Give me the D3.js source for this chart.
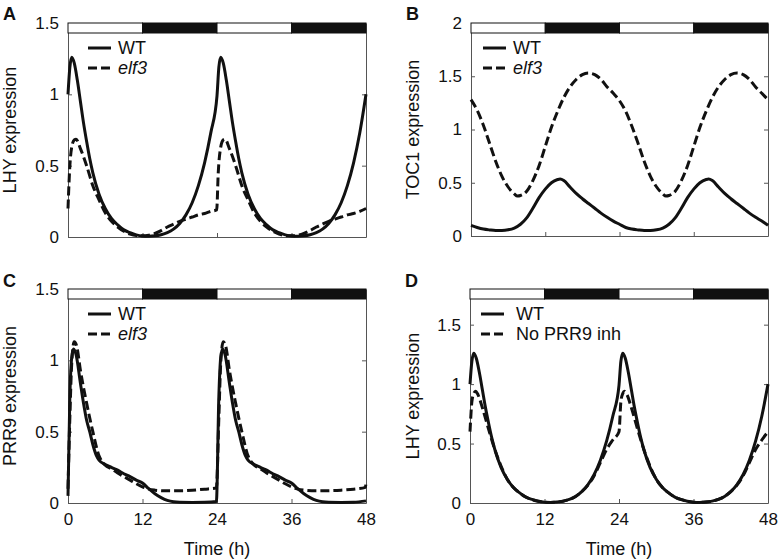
<!DOCTYPE html>
<html>
<head>
<meta charset="utf-8">
<script src="https://cdn.jsdelivr.net/npm/d3@7"></script>
<style>
  body { margin: 0; background: #fff; }
  text { font-family: "Liberation Sans", Arial, Helvetica, sans-serif; fill: #111; }
</style>
</head>
<body>
<div id="chart"></div>
<script>
// time ticks and light/dark schedule
var timeTicks = [0, 12, 24, 36, 48];
var lightDark = [[0, 12, "light"], [12, 24, "dark"], [24, 36, "light"], [36, 48, "dark"]];

// [hour, value] pairs
var lhyWT = [[0,1.0],[0.3,1.19],[0.6,1.26],[1,1.22],[1.5,1.1],[2,0.95],[2.5,0.8],[3,0.67],[3.5,0.55],[4,0.45],[5,0.3],[6,0.2],[7,0.13],[8,0.085],[9,0.05],[10,0.03],[11,0.015],[12,0.007],[13,0.005],[14,0.008],[15,0.016],[16,0.03],[17,0.055],[18,0.095],[19,0.155],[20,0.24],[21,0.36],[22,0.52],[23,0.73],[24,0.99],
  [24.3,1.19],[24.6,1.26],[25,1.22],[25.5,1.1],[26,0.95],[26.5,0.8],[27,0.67],[27.5,0.55],[28,0.45],[29,0.3],[30,0.2],[31,0.13],[32,0.085],[33,0.05],[34,0.03],[35,0.015],[36,0.007],[37,0.005],[38,0.008],[39,0.016],[40,0.03],[41,0.055],[42,0.095],[43,0.155],[44,0.24],[45,0.36],[46,0.52],[47,0.73],[48,1.0]];

var lhyElf3 = [[0,0.2],[0.3,0.5],[0.6,0.63],[1,0.68],[1.3,0.685],[2,0.62],[3,0.5],[4,0.36],[5,0.26],[6,0.17],[7,0.11],[8,0.07],[9,0.04],[10,0.02],[11,0.01],[12,0.008],[13,0.012],[14,0.025],[15,0.045],[16,0.07],[17,0.09],[18,0.11],[19,0.125],[20,0.14],[21,0.155],[22,0.165],[23,0.18],[23.95,0.19],
  [24.2,0.45],[24.6,0.63],[25,0.68],[25.3,0.685],[26,0.62],[27,0.5],[28,0.36],[29,0.26],[30,0.17],[31,0.11],[32,0.07],[33,0.04],[34,0.02],[35,0.01],[36,0.008],[37,0.012],[38,0.025],[39,0.045],[40,0.07],[41,0.09],[42,0.11],[43,0.125],[44,0.14],[45,0.155],[46,0.165],[47,0.18],[48,0.2]];

var toc1WT = [[0,0.1],[1,0.08],[2,0.065],[3,0.057],[4,0.052],[5,0.052],[6,0.058],[7,0.075],[8,0.11],[9,0.17],[10,0.26],[11,0.36],[12,0.44],[13,0.5],[14,0.53],[14.4,0.535],[15,0.52],[16,0.46],[17,0.4],[18,0.35],[19,0.305],[20,0.26],[21,0.215],[22,0.175],[23,0.14],[24,0.11],
  [25,0.08],[26,0.065],[27,0.057],[28,0.052],[29,0.052],[30,0.058],[31,0.075],[32,0.11],[33,0.17],[34,0.26],[35,0.36],[36,0.44],[37,0.5],[38,0.53],[38.4,0.535],[39,0.52],[40,0.46],[41,0.4],[42,0.35],[43,0.305],[44,0.26],[45,0.215],[46,0.175],[47,0.14],[48,0.1]];

var toc1Elf3 = [[0,1.28],[1,1.18],[2,1.04],[3,0.87],[4,0.7],[5,0.56],[6,0.46],[7,0.395],[7.5,0.375],[8,0.38],[9,0.42],[10,0.52],[11,0.66],[12,0.84],[13,1.02],[14,1.17],[15,1.3],[16,1.4],[17,1.47],[18,1.515],[19,1.53],[20,1.515],[21,1.47],[22,1.4],[23,1.34],[24,1.27],
  [25,1.17],[26,1.03],[27,0.87],[28,0.7],[29,0.56],[30,0.46],[31,0.395],[31.5,0.375],[32,0.38],[33,0.42],[34,0.52],[35,0.66],[36,0.84],[37,1.02],[38,1.17],[39,1.3],[40,1.4],[41,1.47],[42,1.515],[43,1.53],[44,1.515],[45,1.47],[46,1.4],[47,1.34],[48,1.28]];

var prr9WT = [[0,0.05],[0.3,0.75],[0.6,1.02],[0.9,1.08],[1.3,1.04],[2,0.84],[2.5,0.7],[3,0.58],[3.5,0.5],[4,0.41],[4.6,0.33],[5,0.3],[6,0.27],[7,0.25],[8,0.23],[9,0.205],[10,0.185],[11,0.16],[12,0.14],[13,0.1],[14,0.065],[15,0.038],[16,0.018],[17,0.008],[18,0.005],[20,0.004],[22,0.005],[23.9,0.01],
  [24.3,0.75],[24.6,1.02],[24.9,1.08],[25.3,1.04],[26,0.84],[26.5,0.7],[27,0.58],[27.5,0.5],[28,0.41],[28.6,0.33],[29,0.3],[30,0.27],[31,0.25],[32,0.23],[33,0.205],[34,0.185],[35,0.16],[36,0.14],[37,0.1],[38,0.065],[39,0.038],[40,0.018],[41,0.008],[42,0.005],[44,0.004],[46,0.005],[48,0.015]];

var prr9Elf3 = [[0,0.1],[0.3,0.6],[0.6,0.98],[1,1.13],[1.4,1.1],[2,0.93],[3,0.7],[4,0.5],[5,0.33],[5.5,0.29],[6,0.265],[7,0.24],[8,0.21],[9,0.185],[10,0.16],[11,0.135],[12,0.113],[13,0.097],[14,0.09],[16,0.085],[18,0.086],[20,0.09],[22,0.097],[23.9,0.105],
  [24.3,0.6],[24.6,0.98],[25,1.13],[25.4,1.1],[26,0.93],[27,0.7],[28,0.5],[29,0.33],[29.5,0.29],[30,0.265],[31,0.24],[32,0.21],[33,0.185],[34,0.16],[35,0.135],[36,0.113],[37,0.097],[38,0.09],[40,0.085],[42,0.086],[44,0.09],[46,0.097],[47.9,0.11],[48,0.14]];

var lhyNoPrr9 = [[0,0.6],[0.3,0.85],[0.6,0.92],[0.9,0.94],[1.3,0.91],[2,0.8],[3,0.62],[4,0.45],[5,0.31],[6,0.2],[7,0.13],[8,0.085],[9,0.05],[10,0.028],[11,0.014],[12,0.007],[13,0.005],[14,0.008],[15,0.015],[16,0.03],[17,0.055],[18,0.095],[19,0.15],[20,0.23],[21,0.34],[22,0.45],[23,0.53],[24,0.6],
  [24.3,0.85],[24.6,0.92],[24.9,0.94],[25.3,0.91],[26,0.8],[27,0.62],[28,0.45],[29,0.31],[30,0.2],[31,0.13],[32,0.085],[33,0.05],[34,0.028],[35,0.014],[36,0.007],[37,0.005],[38,0.008],[39,0.015],[40,0.03],[41,0.055],[42,0.095],[43,0.15],[44,0.23],[45,0.34],[46,0.45],[47,0.53],[48,0.6]];

var svg = d3.select("#chart").append("svg")
  .attr("width", 778)
  .attr("height", 560);

var axisColor = "#555";

function drawPanel(p) {
  var x = d3.scaleLinear().domain([0, 48]).range([p.left, p.right]);
  var y = d3.scaleLinear().domain([0, p.ymax]).range([p.bottom, p.top]);
  var g = svg.append("g");

  // left axis
  var ya = g.append("g")
    .attr("transform", "translate(" + p.left + ",0)")
    .call(d3.axisLeft(y).tickValues(p.yticks).tickSizeInner(-4).tickSizeOuter(0).tickPadding(9)
      .tickFormat(d3.format("~g")));
  ya.selectAll("text").style("font-size", "17px").attr("fill", "#111")
    .style("font-family", "'Liberation Sans', Arial, sans-serif");

  // mirrored ticks on the right
  g.append("g")
    .attr("transform", "translate(" + p.right + ",0)")
    .call(d3.axisRight(y).tickValues(p.yticks).tickSizeInner(-4).tickSizeOuter(0).tickFormat(""));

  // bottom axis
  var xa = g.append("g")
    .attr("transform", "translate(0," + p.bottom + ")")
    .call(d3.axisBottom(x).tickValues(timeTicks).tickSizeInner(-4).tickSizeOuter(0).tickPadding(10)
      .tickFormat(p.xlabels ? d3.format("d") : ""));
  xa.selectAll("text").style("font-size", "17px").attr("fill", "#111")
    .style("font-family", "'Liberation Sans', Arial, sans-serif");

  g.selectAll(".domain, .tick line").attr("stroke", axisColor);

  // light / dark bar across the top
  g.selectAll(".ld")
    .data(lightDark)
    .enter().append("rect")
    .attr("x", d => x(d[0]))
    .attr("y", p.top)
    .attr("width", d => x(d[1]) - x(d[0]))
    .attr("height", 10)
    .attr("fill", d => d[2] == "dark" ? "#111" : "#fff")
    .attr("stroke", "#111")
    .attr("stroke-width", 1);

  // curves
  var line = d3.line()
    .x(d => x(d[0]))
    .y(d => y(d[1]))
    .curve(d3.curveMonotoneX);

  p.series.forEach(function(s) {
    g.append("path")
      .datum(s.data)
      .attr("fill", "none")
      .attr("stroke", "#111")
      .attr("stroke-width", 3)
      .attr("stroke-dasharray", s.dashed ? "9,4" : null)
      .attr("d", line);
  });

  // legend
  p.series.forEach(function(s, i) {
    var ly = p.top + 25 + i * 20;
    g.append("line")
      .attr("x1", p.left + p.legX).attr("x2", p.left + p.legX + 23)
      .attr("y1", ly).attr("y2", ly)
      .attr("stroke", "#111").attr("stroke-width", 3)
      .attr("stroke-dasharray", s.dashed ? "9,4" : null);
    g.append("text")
      .attr("x", p.left + p.legText)
      .attr("y", ly + 6)
      .style("font-size", "18px")
      .style("font-style", s.italic ? "italic" : "normal")
      .text(s.name);
  });

  // y label
  g.append("text")
    .attr("transform", "translate(" + p.ylabX + "," + ((p.top + p.bottom) / 2) + ") rotate(-90)")
    .style("text-anchor", "middle")
    .style("font-size", "18px")
    .text(p.ylabel);

  // x label
  if (p.xlabels) {
    g.append("text")
      .attr("x", (p.left + p.right) / 2)
      .attr("y", 555)
      .style("text-anchor", "middle")
      .style("font-size", "18px")
      .text("Time (h)");
  }

  // panel letter
  g.append("text")
    .attr("x", p.letterX)
    .attr("y", p.letterY)
    .style("font-size", "18px")
    .style("font-weight", "bold")
    .text(p.letter);
}

drawPanel({letter: "A", letterX: 3, letterY: 20, left: 68, right: 366, top: 23, bottom: 237,
  ymax: 1.5, yticks: [0, 0.5, 1, 1.5], ylabel: "LHY expression", ylabX: 16, xlabels: false,
  legX: 20, legText: 50,
  series: [{name: "WT", data: lhyWT}, {name: "elf3", data: lhyElf3, dashed: true, italic: true}]});

drawPanel({letter: "B", letterX: 406, letterY: 20, left: 471, right: 768, top: 23, bottom: 236,
  ymax: 2, yticks: [0, 0.5, 1, 1.5, 2], ylabel: "TOC1 expression", ylabX: 419, xlabels: false,
  legX: 12, legText: 42,
  series: [{name: "WT", data: toc1WT}, {name: "elf3", data: toc1Elf3, dashed: true, italic: true}]});

drawPanel({letter: "C", letterX: 3, letterY: 287, left: 68, right: 366, top: 289, bottom: 503,
  ymax: 1.5, yticks: [0, 0.5, 1, 1.5], ylabel: "PRR9 expression", ylabX: 16, xlabels: true,
  legX: 20, legText: 50,
  series: [{name: "WT", data: prr9WT}, {name: "elf3", data: prr9Elf3, dashed: true, italic: true}]});

drawPanel({letter: "D", letterX: 405, letterY: 287, left: 470, right: 768, top: 289, bottom: 503,
  ymax: 1.8, yticks: [0, 0.5, 1, 1.5], ylabel: "LHY expression", ylabX: 419, xlabels: true,
  legX: 11, legText: 46,
  series: [{name: "WT", data: lhyWT}, {name: "No PRR9 inh", data: lhyNoPrr9, dashed: true}]});
</script>
</body>
</html>
